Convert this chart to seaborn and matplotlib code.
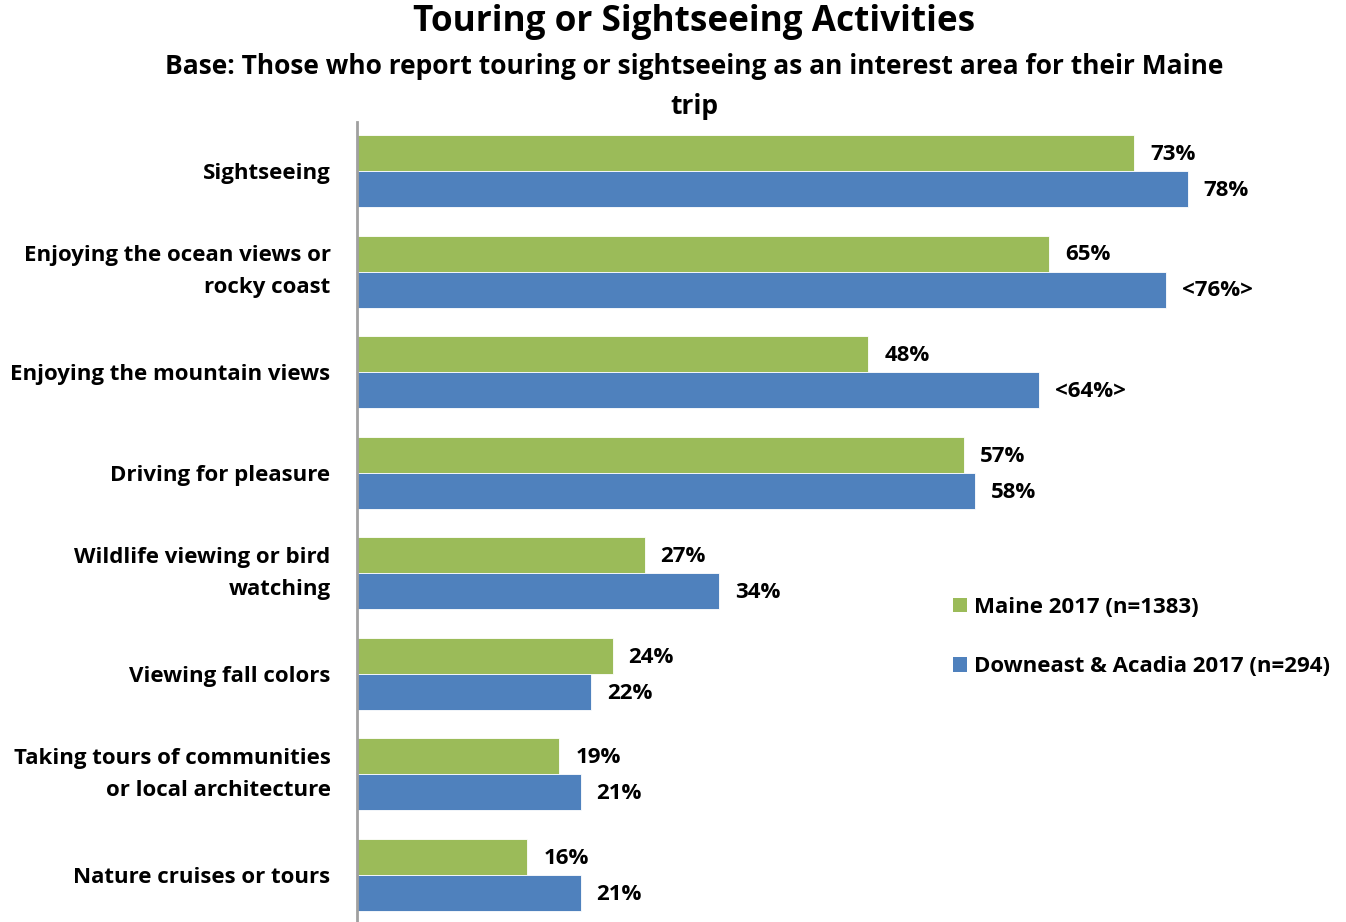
import matplotlib
matplotlib.use("Agg")
import matplotlib.pyplot as plt
from matplotlib.patches import Patch
import seaborn as sns
import pandas as pd

categories = [
    "Sightseeing",
    "Enjoying the ocean views or\nrocky coast",
    "Enjoying the mountain views",
    "Driving for pleasure",
    "Wildlife viewing or bird\nwatching",
    "Viewing fall colors",
    "Taking tours of communities\nor local architecture",
    "Nature cruises or tours",
]
series_names = ["Maine 2017 (n=1383)", "Downeast & Acadia 2017 (n=294)"]
maine = [73, 65, 48, 57, 27, 24, 19, 16]
downeast = [78, 76, 64, 58, 34, 22, 21, 21]
# significant differences are shown in angle brackets
downeast_sig = [False, True, True, False, False, False, False, False]

colors = ["#9BBB59", "#4F81BD"]

df = pd.DataFrame({
    "category": categories * 2,
    "series": [series_names[0]] * len(categories) + [series_names[1]] * len(categories),
    "value": maine + downeast,
})

sns.set_theme(style="white")
plt.rcParams["font.family"] = ["Open Sans", "DejaVu Sans"]
plt.rcParams["font.weight"] = "bold"
plt.rcParams["text.color"] = "black"
plt.rcParams["ytick.labelcolor"] = "black"

fig = plt.figure(figsize=(13.46, 9.22), dpi=100)
ax = fig.add_axes([357 / 1346, 0.0, 1 - 357 / 1346, 1 - 122 / 922])

sns.barplot(data=df, y="category", x="value", hue="series", orient="h",
            palette=colors, width=0.716, order=categories, hue_order=series_names,
            edgecolor="white", linewidth=0.6, legend=False, ax=ax, saturation=1)

ax.set_xlim(0, 989 / 10.65)
ax.set_ylim(7.467, -0.487)
ax.set_xlabel("")
ax.set_ylabel("")
ax.set_xticks([])
ax.tick_params(axis="y", length=0, pad=19, labelsize=16, labelcolor="black")
for lbl in ax.get_yticklabels():
    lbl.set_fontweight("bold")
    lbl.set_horizontalalignment("right")
    lbl.set_multialignment("right")
    lbl.set_linespacing(1.72)
    if "\n" in lbl.get_text():
        lbl.set_verticalalignment("center")

for s in ["top", "right", "bottom"]:
    ax.spines[s].set_visible(False)
ax.spines["left"].set_color("#A0A0A0")
ax.spines["left"].set_linewidth(2)

# value labels
bh = 0.358
for i in range(len(categories)):
    ax.annotate(f"{maine[i]}%", (maine[i], i - bh / 2), xytext=(11.5, -1),
                textcoords="offset points", va="center", ha="left",
                fontsize=16, fontweight="bold", color="black")
    txt = f"<{downeast[i]}%>" if downeast_sig[i] else f"{downeast[i]}%"
    ax.annotate(txt, (downeast[i], i + bh / 2), xytext=(11.5, -1),
                textcoords="offset points", va="center", ha="left",
                fontsize=16, fontweight="bold", color="black")

handles = [Patch(facecolor=c, edgecolor="none") for c in colors]
leg = fig.legend(handles, series_names, loc="center left",
                 bbox_to_anchor=(933 / 1346, 1 - 637 / 922), frameon=False,
                 handlelength=0.64, handleheight=0.64,
                 handletextpad=0.3, labelspacing=1.72, prop={"weight": "bold", "size": 16})
for t in leg.get_texts():
    t.set_color("black")

fig.text(694 / 1346, 1 - 22 / 922, "Touring or Sightseeing Activities",
         ha="center", va="center", fontsize=25.3, fontweight="bold")
fig.text(694 / 1346, 1 - 67 / 922,
         "Base: Those who report touring or sightseeing as an interest area for their Maine",
         ha="center", va="center", fontsize=19, fontweight="bold")
fig.text(694 / 1346, 1 - 106 / 922, "trip",
         ha="center", va="center", fontsize=19, fontweight="bold")

fig.savefig("out.png", dpi=100)
